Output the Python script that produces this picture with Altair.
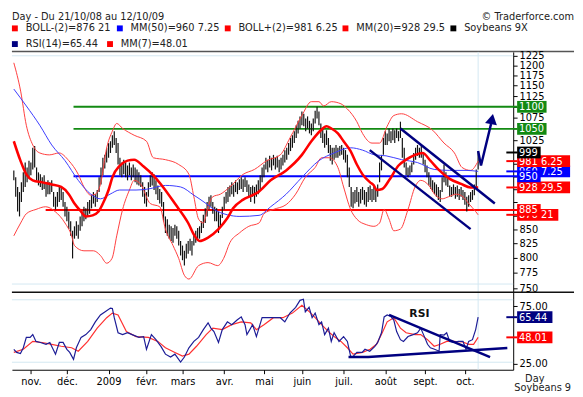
import altair as alt
import pandas as pd

# ---------------- values ----------------
# daily bars, trading-day index 0 = 21/10/08 ... 245 = 12/10/09
high = [962, 948, 929, 919, 938, 958, 978, 968, 982, 978,
        1009, 1013, 968, 958, 954, 948, 952, 938, 942, 938,
        942, 919, 910, 919, 929, 929, 919, 900, 891, 882,
        864, 847, 855, 864, 858, 873, 882, 891, 888, 900,
        904, 913, 919, 915, 923, 948, 968, 988, 994, 1009,
        1019, 1023, 1036, 1045, 1030, 1019, 988, 978, 984, 978,
        972, 978, 968, 974, 968, 964, 958, 952, 938, 929,
        919, 938, 952, 958, 954, 942, 932, 925, 919, 900,
        873, 868, 858, 855, 852, 858, 855, 847, 829, 821,
        812, 824, 829, 833, 829, 841, 847, 852, 855, 864,
        876, 888, 900, 910, 913, 900, 891, 888, 882, 876,
        891, 910, 919, 929, 932, 938, 934, 942, 938, 944,
        948, 944, 948, 942, 934, 929, 932, 929, 934, 942,
        952, 968, 974, 988, 984, 992, 988, 994, 988, 992,
        984, 988, 994, 1004, 1009, 1019, 1030, 1036, 1045, 1058,
        1068, 1078, 1089, 1084, 1073, 1078, 1068, 1062, 1073, 1091,
        1100, 1089, 1062, 1051, 1040, 1047, 1030, 1015, 1009, 1009,
        1015, 1009, 1013, 1015, 1009, 1004, 994, 968, 929, 919,
        923, 929, 919, 925, 929, 923, 919, 929, 932, 925,
        929, 923, 934, 978, 994, 1030, 1045, 1040, 1051, 1045,
        1051, 1047, 1051, 1045, 1066, 1030, 1009, 978, 968, 972,
        978, 998, 1009, 1015, 1009, 1013, 998, 984, 972, 958,
        948, 942, 938, 934, 929, 923, 948, 974, 958, 948,
        932, 929, 934, 929, 932, 925, 929, 923, 919, 910,
        913, 919, 923, 934, 964, 1002]
low = [942, 910, 882, 873, 900, 919, 929, 938, 948, 952,
       964, 968, 942, 932, 929, 923, 925, 910, 915, 915,
       919, 891, 886, 891, 900, 904, 891, 873, 864, 850,
       838, 799, 833, 838, 833, 847, 855, 864, 868, 873,
       878, 888, 897, 891, 900, 919, 934, 952, 966, 978,
       988, 998, 1009, 1015, 998, 974, 952, 948, 954, 948,
       942, 952, 942, 948, 938, 934, 932, 929, 910, 897,
       891, 910, 929, 932, 923, 915, 904, 897, 891, 864,
       843, 838, 833, 829, 826, 838, 833, 821, 804, 796,
       787, 799, 807, 812, 804, 821, 826, 829, 833, 843,
       852, 861, 873, 886, 891, 878, 864, 864, 843, 852,
       870, 886, 897, 900, 910, 915, 910, 919, 915, 923,
       925, 919, 929, 919, 910, 900, 910, 897, 910, 915,
       923, 938, 948, 964, 958, 968, 962, 972, 964, 968,
       958, 964, 972, 978, 984, 994, 1002, 1009, 1019, 1030,
       1040, 1051, 1058, 1056, 1045, 1051, 1040, 1036, 1045, 1062,
       1073, 1058, 1030, 1019, 1009, 1015, 998, 982, 974, 984,
       988, 988, 992, 994, 984, 978, 948, 929, 891, 888,
       897, 900, 891, 897, 904, 895, 891, 900, 904, 900,
       904, 900, 910, 938, 962, 994, 1015, 1015, 1023, 1019,
       1025, 1019, 1030, 1023, 1030, 988, 968, 952, 948, 952,
       958, 974, 984, 992, 988, 988, 974, 958, 948, 932,
       925, 919, 915, 910, 904, 900, 919, 938, 932, 929,
       910, 910, 913, 906, 910, 904, 910, 904, 895, 882,
       891, 900, 904, 913, 929, 964]

month_idx = [9, 28, 50, 70, 89, 111, 132, 152, 174, 196, 217, 238]
month_lab = ["nov.", "déc.", "2009", "févr.", "mars", "avr.", "mai",
             "juin", "juil.", "août", "sept.", "oct."]

mm20_i = [0, 3.5, 6.6, 10, 15, 20, 25, 29, 32, 35.5, 38, 41.6, 44.7, 47, 50, 52, 56, 60, 63.5, 68.5,
          73.6, 78.7, 85, 92, 95.4, 98, 102.5, 108, 112.7, 115.7, 120.8, 126, 129, 135.5, 143.7, 152,
          157, 162, 165, 167.5, 171, 174, 177.7, 181, 184, 188, 190, 191.4, 194.4, 198, 203, 207,
          211.7, 215.7, 219.8, 224, 230, 236, 241, 245]
mm20_v = [1023, 982, 954, 942, 938, 934, 929, 915, 897, 882, 873, 875, 882, 897, 923, 948, 972, 982, 984, 970,
          952, 929, 897, 861, 838, 829, 835, 850, 870, 888, 904, 913, 919, 942, 962, 994,
          1023, 1047, 1056, 1051, 1040, 1023, 1002, 974, 954, 938, 932, 923, 925, 942, 972, 984,
          994, 998, 982, 964, 945, 935, 928, 928]

mm50_i = [0, 6.6, 13.7, 20, 27, 34, 40.6, 45.7, 50.8, 55.8, 64.5, 71, 80, 88, 95, 101.5, 105.6, 112.7,
          119.3, 129.4, 135.5, 143.7, 152, 161, 169, 177.7, 184, 190.4, 196.4, 204.6, 213, 221.8, 230,
          238.6, 245]
mm50_v = [1142, 1102, 1058, 1015, 982, 942, 915, 906, 915, 923, 923, 925, 932, 929, 913, 897, 886, 876,
          873, 875, 891, 915, 948, 982, 998, 1009, 1004, 994, 992, 984, 978, 964, 962, 962, 960]

bbu_i = [0, 3.6, 6.6, 10, 13.7, 18.8, 23.9, 29, 34, 37, 40.6, 43, 45.7, 49, 52, 54.3, 57.4, 63.5, 70, 73.6,
         80, 87, 92.4, 95, 97.5, 100, 102.5, 105, 109, 114, 121, 127, 133.5, 140.6, 145.7, 152, 157, 161,
         163.5, 167.5, 172.6, 176, 181, 184, 189, 193, 197, 200.5, 204.6, 213, 221, 227, 232.5, 236.5,
         241, 245]
bbu_v = [1207, 1137, 1058, 1015, 998, 994, 998, 982, 954, 929, 913, 915, 934, 1009, 1045, 1062, 1051, 1036,
         1023, 988, 984, 974, 954, 910, 868, 861, 891, 910, 915, 929, 954, 964, 982, 994, 1030, 1080, 1112,
         1112, 1102, 1112, 1107, 1095, 1066, 1040, 1019, 1019, 1056, 1080, 1084, 1066, 1047, 1019, 998,
         968, 962, 981]

bbl_i = [0, 3.6, 6.6, 11.7, 16.8, 21.8, 27, 30.5, 32, 37, 42, 45.7, 49, 51.8, 54.3, 57.4, 61, 63.5, 67, 72,
         77, 80, 84, 87, 90, 92.4, 97.5, 102.5, 107.6, 110.7, 114, 119, 124, 129.4, 132, 137, 143.7, 148.7,
         153.8, 159, 162.4, 166.5, 171, 174, 177.7, 181, 186, 190, 193, 195.4, 198, 200.5, 204, 208, 211.7,
         214.7, 219, 222, 226, 229.4, 233.5, 237, 240, 243.7, 245]
bbl_v = [838, 861, 878, 886, 891, 882, 861, 838, 821, 812, 812, 804, 791, 799, 838, 886, 923, 942, 934, 897,
         891, 850, 821, 799, 771, 765, 787, 792, 787, 799, 826, 843, 855, 861, 878, 886, 895, 915, 948, 968,
         988, 988, 968, 929, 886, 868, 858, 855, 861, 886, 868, 847, 850, 886, 929, 942, 932, 915, 906, 910,
         915, 910, 897, 882, 876]

rsi_i = [0, 1.5, 3.5, 5, 6.6, 8.6, 10, 11.7, 14, 17, 19, 22, 24, 26, 28, 29.5, 31.5, 33, 35.5, 38,
         40.6, 43, 45.7, 48, 51, 52, 53, 55, 57.4, 60, 62.4, 66, 68.5, 70, 72.6, 75, 77.7, 80, 82.7, 85,
         88, 90, 92.4, 95, 97.5, 100, 102.5, 104, 105.6, 108, 110, 112.7, 115, 117.8, 120, 122, 123, 126,
         128, 131, 133.5, 137, 140.6, 143, 145.7, 148.7, 151, 152.8, 153.8, 155.8, 157.4, 159, 161, 162.4,
         164, 166, 167.5, 169, 171.6, 174, 176, 177.7, 178.7, 181, 183.8, 185.3, 187.8, 190.4, 192, 194,
         195.4, 197, 199, 200.5, 202, 204, 205.6, 208, 210.7, 213, 214.7, 216.8, 218.3, 219.8, 222, 224.4,
         225, 227, 228.4, 230, 232, 234.5, 237, 238.6, 240, 242, 243.7, 245]
rsi_v = [37.7, 35, 34, 39, 48, 48, 50.4, 44.5, 43.6, 42, 43.6, 33.5, 43.6, 43.6, 37.7, 35, 29, 39, 48, 50.4,
         54.7, 61.4, 67.4, 70, 73.3, 73, 65, 52, 50.4, 52, 50.4, 48, 48.7, 37.7, 50.4, 46, 40, 33.5, 31, 33.5,
         26.7, 31, 39, 44.5, 48, 54.7, 60.6, 56, 53, 43.6, 54.7, 61.4, 59, 63, 65.7, 59, 50.4, 59, 48.7, 65,
         65, 65, 65, 61.4, 69, 74, 80, 81, 70, 74, 65, 69, 59, 61.4, 50.4, 56, 44.5, 52, 44.5, 48.7,
         44.5, 31.8, 31, 35, 35, 37.7, 36, 40, 43.6, 52, 65.7, 67.4, 66, 63, 53, 46, 44.5, 48.7, 50.4, 52,
         56, 48, 42, 39, 37.7, 36, 50.4, 50, 52, 44.5, 43.6, 44.5, 44.5, 37.7, 44.5, 46, 54.7, 65.44]

ma7_i = [0, 5, 10, 15, 20, 25, 30.5, 34, 39, 44, 49, 52, 55, 59.4, 64.5, 71, 76, 80, 85, 89, 92.4, 96.4,
         101.5, 105, 110, 115, 120, 125, 128, 132, 137, 142, 147, 152, 156, 159, 162.4, 166, 169, 172.6,
         176, 179, 184, 188, 191.4, 194.4, 197, 200.5, 204, 207, 211.7, 214.7, 218.3, 221.8, 225, 228.4,
         232, 237, 240, 242.6, 245]
ma7_v = [35, 37.7, 44.5, 43.6, 42, 40.3, 39, 36, 44.5, 56, 65, 69, 67.4, 53, 48.7, 48, 44.5, 39, 35, 31.8,
         33.5, 40.3, 50.4, 56, 54.7, 59, 61.4, 60.6, 54.7, 59, 65, 65, 69, 75.8, 70, 65, 59, 53, 48.7, 44.5,
         39, 33.5, 35, 37.7, 42, 52, 61.4, 65, 56, 52, 50.4, 50.4, 46, 40.3, 42, 44.5, 44.5, 44, 42, 42, 48.01]

level_val = [1100, 1050, 950, 885]
level_start = [31.5, 31.5, 31.5, 16.8]

chan_up_i, chan_up_v = [204, 253.8], [1051, 897]
chan_lo_i, chan_lo_v = [187.8, 241], [1004, 850]
arrow_i, arrow_v = [245, 246.5, 251.8], [1002, 972, 1061]
arrow_head_i, arrow_head_v = [252.3], [1072]

rsi_tr_up_i, rsi_tr_up_v = [198, 251.3], [67.4, 31]
rsi_tr_lo_i, rsi_tr_lo_v = [176.6, 187, 260.4], [31, 31, 38.8]
rsi_label_i, rsi_label_v = [214], [68]

price_ticks = list(range(750, 1226, 25))
price_hidden = [1100, 1050, 1000, 975, 950, 925, 900, 875]   # covered by value boxes
rsi_ticks = [25, 75]
price_grid = [1225, 757]
rsi_grid = [80.5, 26.5]
last_idx = [245]

box_val = [876, 885, 928, 960, 950, 981, 999, 1050, 1100]
box_txt = ["876 21", "885", "928 29.5", "960 7.25", "950", "981 6.25", "999", "1050", "1100"]
rbox_val = [65.44, 48.01]
rbox_txt = ["65.44", "48.01"]

legend1 = ["BOLL-(2)=876 21", "MM(50)=960 7.25", "BOLL+(2)=981 6.25", "MM(20)=928 29.5", "Soybeans 9X"]
legend2 = ["RSI(14)=65.44", "MM(7)=48.01"]

# ---------------- styling / layout ----------------
W, HH, HP, HR = 511, 41, 245, 79
FONT = "DejaVu Sans"
RED, BLUE, GREEN, NAVY, BLACK = "#ff0000", "#0000ff", "#138a13", "#000080", "#000000"
GRID = "#d3e8f2"

xs = alt.Scale(domain=[-1, 263.5], nice=False, zero=False)
ps = alt.Scale(type="log", domain=[744, 1235], nice=False)
rs = alt.Scale(domain=[20, 87], nice=False, zero=False)

hidden_expr = ("indexof([" + ",".join(str(v) for v in price_hidden)
               + "], datum.value) >= 0 ? '' : datum.label")
price_axis = alt.Axis(orient="right", values=price_ticks, format="d", tickSize=4, labelExpr=hidden_expr,
                      labelPadding=2, grid=False, title=None, zindex=0, labelFontSize=10,
                      labelOverlap=False, labelFlush=False)
rsi_axis = alt.Axis(orient="right", values=rsi_ticks, format=".2f", tickSize=4,
                    labelPadding=2, grid=False, title=None, zindex=0, labelFontSize=10,
                    labelOverlap=False)
lab_expr = ("[" + ",".join("'" + m + "'" for m in month_lab) + "][indexof(["
            + ",".join(str(v) for v in month_idx) + "], datum.value)]")
x_axis = alt.Axis(values=month_idx, labelExpr=lab_expr, tickSize=4, labelPadding=3, grid=False,
                  title=None, labelAngle=0, zindex=0, labelFontSize=10, labelOverlap=False)


def XP(field="i"):
    return alt.X(field + ":Q", scale=xs, axis=None)


def XR(field="i"):
    return alt.X(field + ":Q", scale=xs, axis=x_axis)


def YP(field="v"):
    return alt.Y(field + ":Q", scale=ps, axis=price_axis)


def YR(field="v"):
    return alt.Y(field + ":Q", scale=rs, axis=rsi_axis)


def line(i, v, color, width, X, Y, interp="linear"):
    df = pd.DataFrame({"i": i, "v": v})
    return alt.Chart(df).mark_line(color=color, strokeWidth=width, interpolate=interp).encode(
        x=X(), y=Y())


def hrules(vals, Y, color, width, x0=0, x1=W):
    df = pd.DataFrame({"v": vals})
    return alt.Chart(df).mark_rule(color=color, strokeWidth=width).encode(
        y=Y(), x=alt.value(x0), x2=alt.value(x1))


def vrule(h, X):
    df = pd.DataFrame({"i": last_idx})
    return alt.Chart(df).mark_rule(color=GRID, strokeWidth=1).encode(
        x=X(), y=alt.value(0), y2=alt.value(h))


def value_boxes(vals, txts, cols, conns, Y):
    out = []
    for v, t, c, cn in zip(vals, txts, cols, conns):
        w = 6 * len(t) + 6
        r = 12.0 / w
        path = f"M-1,{-r:.4f}L1,{-r:.4f}L1,{r:.4f}L-1,{r:.4f}Z"
        base = alt.Chart(pd.DataFrame({"v": [v], "t": [t]}))
        if cn:
            out.append(base.mark_rule(color=c, strokeWidth=2).encode(
                x=alt.value(W - 7), x2=alt.value(W + 4), y=Y()))
        out.append(base.mark_point(shape=path, size=w * w, filled=True, color=c, opacity=1,
                                   strokeWidth=0).encode(x=alt.value(W + 4 + w / 2), y=Y()))
        out.append(base.mark_text(align="left", baseline="middle", font=FONT, fontSize=10,
                                  color="white", dy=0.5).encode(x=alt.value(W + 6), y=Y(), text="t:N"))
    return out


# ---------------- header ----------------
hd = pd.DataFrame({"k": [0]})


def htext(txt, x, y, align="left", color="#222222", weight="normal"):
    return alt.Chart(hd).mark_text(text=txt, align=align, baseline="middle", font=FONT, fontSize=10,
                                   color=color, fontWeight=weight).encode(x=alt.value(x), y=alt.value(y))


def hsq(x, y, color):
    return alt.Chart(hd).mark_square(size=36, color=color, opacity=1, filled=True).encode(
        x=alt.value(x), y=alt.value(y))


header_layers = [htext("Day - Du 21/10/08 au 12/10/09", 0, 5),
                 htext("© Traderforce.com", W + 62, 5, align="right")]
for lab, col, xp in zip(legend1, [RED, BLUE, RED, RED, BLACK], [3, 110, 220, 340, 450]):
    header_layers += [hsq(xp, 17, col), htext(lab, xp + 11, 17)]
for lab, col, xp in zip(legend2, [NAVY, RED], [3, 100]):
    header_layers += [hsq(xp, 33, col), htext(lab, xp + 11, 33)]
header_layers.append(alt.Chart(hd).mark_rule(color="#555555", strokeWidth=1.5).encode(
    x=alt.value(0), x2=alt.value(W + 62), y=alt.value(40.5)))
header = alt.layer(*header_layers).properties(width=W, height=HH)

# ---------------- price panel ----------------
bars_df = pd.DataFrame({"i": list(range(len(high))), "high": high, "low": low})
bars = alt.Chart(bars_df).mark_rule(color="#111111", strokeWidth=1.2).encode(
    x=XP(), y=YP("low"), y2="high:Q")

levels_df = pd.DataFrame({"v": level_val, "s": level_start, "c": [GREEN, GREEN, BLUE, RED]})
levels = alt.Chart(levels_df).mark_rule(strokeWidth=2).encode(
    x=XP("s"), x2=alt.value(W + 4), y=YP(), color=alt.Color("c:N", scale=None))

head = alt.Chart(pd.DataFrame({"i": arrow_head_i, "v": arrow_head_v})).mark_point(
    shape="triangle-up", filled=True, size=150, angle=11, color=NAVY, opacity=1).encode(
    x=XP(), y=YP())

price_layers = [
    hrules(price_grid, YP, GRID, 1),
    vrule(HP, XP),
    levels,
    bars,
    line(bbu_i, bbu_v, "#ff3c3c", 1, XP, YP, "monotone"),
    line(bbl_i, bbl_v, "#ff3c3c", 1, XP, YP, "monotone"),
    line(mm50_i, mm50_v, "#3a3aff", 1, XP, YP, "monotone"),
    line(mm20_i, mm20_v, RED, 2.6, XP, YP, "monotone"),
    line(chan_up_i, chan_up_v, NAVY, 2.5, XP, YP),
    line(chan_lo_i, chan_lo_v, NAVY, 2.5, XP, YP),
    line(arrow_i, arrow_v, NAVY, 2.5, XP, YP),
    head,
] + value_boxes(box_val, box_txt, [RED, RED, RED, BLUE, BLUE, RED, BLACK, GREEN, GREEN],
                [True, False, True, True, False, True, True, False, False], YP)
price = alt.layer(*price_layers).properties(width=W, height=HP)

# ---------------- RSI panel ----------------
rsi_text = alt.Chart(pd.DataFrame({"i": rsi_label_i, "v": rsi_label_v})).mark_text(
    text="RSI", font=FONT, fontSize=11, fontWeight="bold", color="#111111").encode(
    x=XR(), y=YR())

rsi_layers = [
    hrules(rsi_grid, YR, GRID, 1),
    vrule(HR, XR),
    line(ma7_i, ma7_v, "#ff3030", 1.2, XR, YR),
    line(rsi_i, rsi_v, "#1c1c96", 1.2, XR, YR),
    line(rsi_tr_up_i, rsi_tr_up_v, NAVY, 2.5, XR, YR),
    line(rsi_tr_lo_i, rsi_tr_lo_v, NAVY, 2.5, XR, YR),
    rsi_text,
] + value_boxes(rbox_val, rbox_txt, [NAVY, RED], [True, True], YR) + [
    alt.Chart(hd).mark_rule(color="#111111", strokeWidth=1.5).encode(
        x=alt.value(0), x2=alt.value(W + 62), y=alt.value(0)),
    htext("Day", W + 22, HR + 9, align="center"),
    htext("Soybeans 9", W + 1, HR + 19),
]
rsi = alt.layer(*rsi_layers).properties(width=W, height=HR)

chart = alt.vconcat(header, price, rsi, spacing=0, bounds="flush", padding=0).configure_view(
    strokeWidth=0).configure_axis(labelFont=FONT, labelColor="black", domainColor="black",
                                  tickColor="black", domainWidth=1)

chart.save("out.html", embed_options={"renderer": "svg", "actions": False})
